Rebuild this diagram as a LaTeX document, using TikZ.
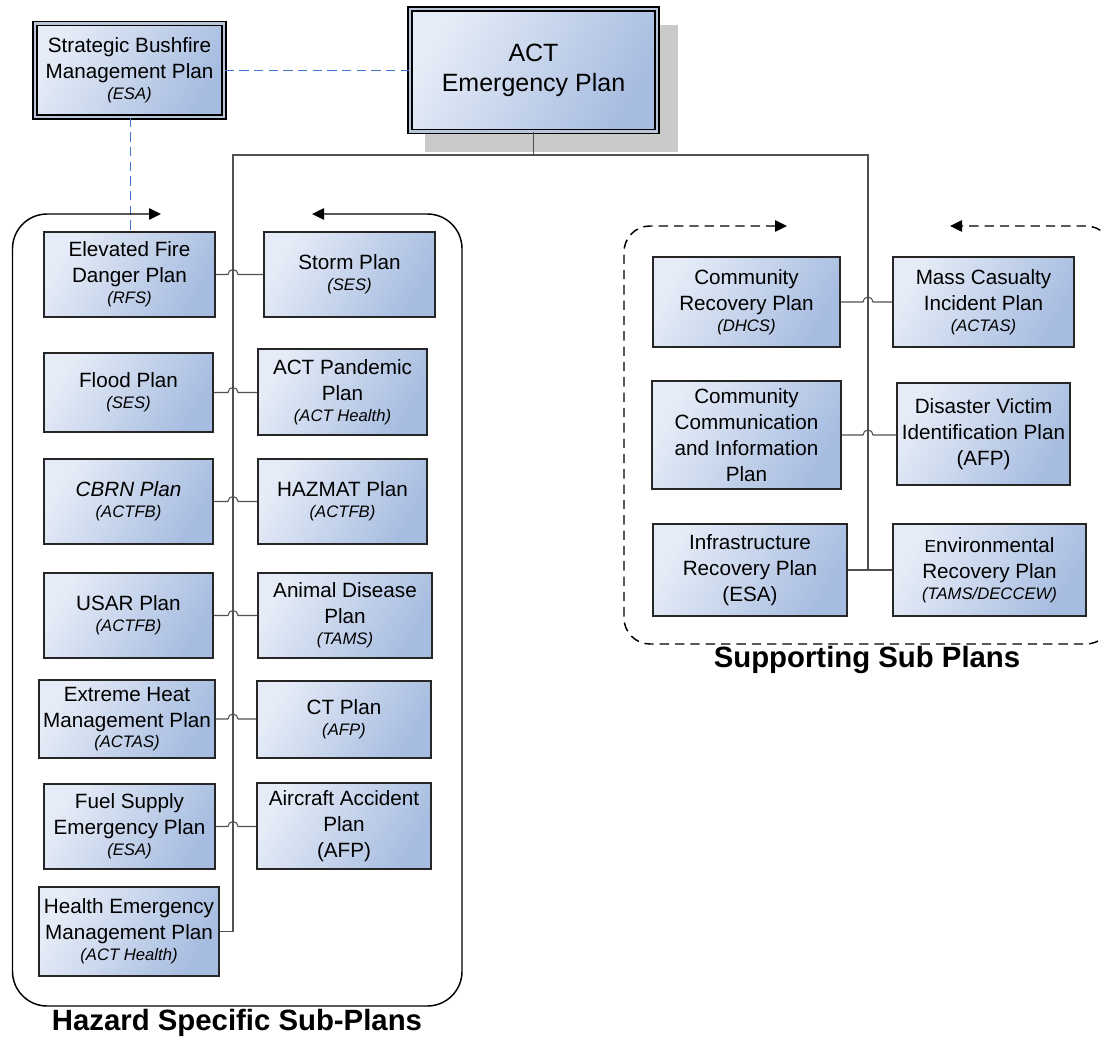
\documentclass[tikz,border=0pt]{standalone}
\usepackage{fontspec}
\setmainfont{Liberation Sans}
\usetikzlibrary{arrows.meta,calc}

\definecolor{bxlight}{HTML}{E6ECF7}
\definecolor{bxdark}{HTML}{A6BCE0}
\definecolor{linkblue}{HTML}{3F73CF}
\definecolor{shadowgray}{HTML}{CACACA}
\definecolor{bandgray}{HTML}{B9C6DA}
\definecolor{wire}{HTML}{505050}

\newcommand\boxfont{\fontsize{15.5}{19.5}\selectfont}
\newcommand\orgfont{\fontsize{12.5}{15}\selectfont\itshape}
\newcommand\org[1]{\\[-4pt]{\orgfont #1}}

% plan box from its corners (x1,y1) to (x2,y2), in pixel units
\newcommand\plan[6]{%
  \node[plan, minimum width={(#4-#2)*0.75pt}, minimum height={(#5-#3)*0.75pt}]
    (#1) at ({(#2+#4)/2},{(#3+#5)/2}) {#6};}

% connector between two side-by-side plans, hopping over the trunk
\newcommand\hop[3]{%
  \draw[conn] (#1.east) -- ($(#1.east -| #3)+(-5,0)$)
    arc[start angle=180, end angle=0, radius=3.75pt] -- (#2.west |- #1.east);}

\tikzset{
  plan/.style={draw=black!85, line width=1.1pt, top color=bxlight,
    bottom color=bxdark, shading angle=60, align=center, inner sep=0pt,
    font=\boxfont},
  mainplan/.style={plan, draw=black, line width=0.9pt, double=bandgray,
    double distance=2.2pt},
  conn/.style={draw=wire, line width=0.8pt},
  link/.style={draw=linkblue, line width=1.05pt, dash pattern=on 7pt off 4pt},
  frame/.style={draw=black, line width=1.1pt,
    {Triangle[length=9pt,width=8.5pt]}-{Triangle[length=9pt,width=8.5pt]}},
  title/.style={font=\fontsize{22}{26}\selectfont\bfseries, inner sep=0pt},
}

\begin{document}
\begin{tikzpicture}[x=0.75pt, y=-0.75pt]
\useasboundingbox (0,0) rectangle (1102,1041);

% top level plans
\fill[shadowgray] (425,25) rectangle (678,152);
\node[mainplan, minimum width=247*0.75pt, minimum height=122.5*0.75pt,
  font=\fontsize{18.75}{22.5}\selectfont] (act) at (533.5,70.25)
  {ACT\\Emergency Plan};
\node[mainplan, minimum width=189*0.75pt, minimum height=93.5*0.75pt]
  (strat) at (129.5,70.25)
  {Strategic Bushfire\\Management Plan\org{(ESA)}};

% hazard specific sub-plans
\plan{efd}{44}{232}{215}{317}{Elevated Fire\\Danger Plan\org{(RFS)}}
\plan{storm}{264}{232}{435}{317}{Storm Plan\org{(SES)}}
\plan{flood}{44}{353}{213}{432}{Flood Plan\org{(SES)}}
\plan{pandemic}{258}{349}{427}{435}{ACT Pandemic\\Plan\org{(ACT Health)}}
\plan{cbrn}{44}{459}{213}{544}{\textit{CBRN Plan}\org{(ACTFB)}}
\plan{hazmat}{258}{459}{427}{544}{HAZMAT Plan\org{(ACTFB)}}
\plan{usar}{44}{573}{213}{658}{USAR Plan\org{(ACTFB)}}
\plan{animal}{258}{573}{432}{658}{Animal Disease\\Plan\org{(TAMS)}}
\plan{heat}{39}{680}{215}{758}{Extreme Heat\\Management Plan\org{(ACTAS)}}
\plan{ct}{257}{681}{431}{758}{CT Plan\org{(AFP)}}
\plan{fuel}{44}{784}{215}{869}{Fuel Supply\\Emergency Plan\org{(ESA)}}
\plan{aircraft}{257}{783}{431}{869}{Aircraft Accident\\Plan\\(AFP)}
\plan{health}{39}{887}{219}{976}{Health Emergency\\Management Plan\org{(ACT Health)}}

% supporting sub plans
\plan{commrec}{653}{257}{840}{347}{Community\\Recovery Plan\org{(DHCS)}}
\plan{masscas}{893}{257}{1074}{347}{Mass Casualty\\Incident Plan\org{(ACTAS)}}
\plan{commcomm}{652}{381}{841}{489}{Community\\Communication\\and Information\\Plan}
\plan{dvi}{897}{383}{1070}{485}{Disaster Victim\\Identification Plan\\(AFP)}
\plan{infra}{653}{524}{847}{616}{Infrastructure\\Recovery Plan\\(ESA)}
\plan{env}{893}{524}{1086}{616}{{\fontsize{13}{15}\selectfont E}nvironmental\\Recovery Plan\org{(TAMS/DECCEW)}}

% trunk lines
\coordinate (jl) at (233,155);
\coordinate (jr) at (868,155);
\draw[conn] (act.south) -- (act.south |- jl);
\draw[conn] (health.east) -- (health.east -| jl) -- (jl) -- (jr) -- (infra.east -| jr);
\draw[conn] (infra.east) -- (env.west);

\hop{efd}{storm}{jl}
\hop{flood}{pandemic}{jl}
\hop{cbrn}{hazmat}{jl}
\hop{usar}{animal}{jl}
\hop{heat}{ct}{jl}
\hop{fuel}{aircraft}{jl}
\hop{commrec}{masscas}{jr}
\hop{commcomm}{dvi}{jr}

% bushfire plan links
\draw[link] (strat.east) -- (act.west);
\draw[link] ([xshift=0.75pt]strat.south) -- ([xshift=0.75pt]strat.south |- efd.north);

% group frames
\draw[frame, rounded corners=26pt]
  (161,214) -- (12.5,214) -- (12.5,1006) -- (462,1006) -- (462,214) -- (312,214);
\draw[frame, dash pattern=on 7pt off 4.5pt, rounded corners=19.5pt]
  (787,226) -- (624,226) -- (624,644) -- (1112,644) -- (1112,226) -- (950,226);

\node[title] (hztitle) at (237,1023) {Hazard Specific Sub-Plans};
\node[title] (sptitle) at (867,660) {Supporting Sub Plans};
\end{tikzpicture}
\end{document}
